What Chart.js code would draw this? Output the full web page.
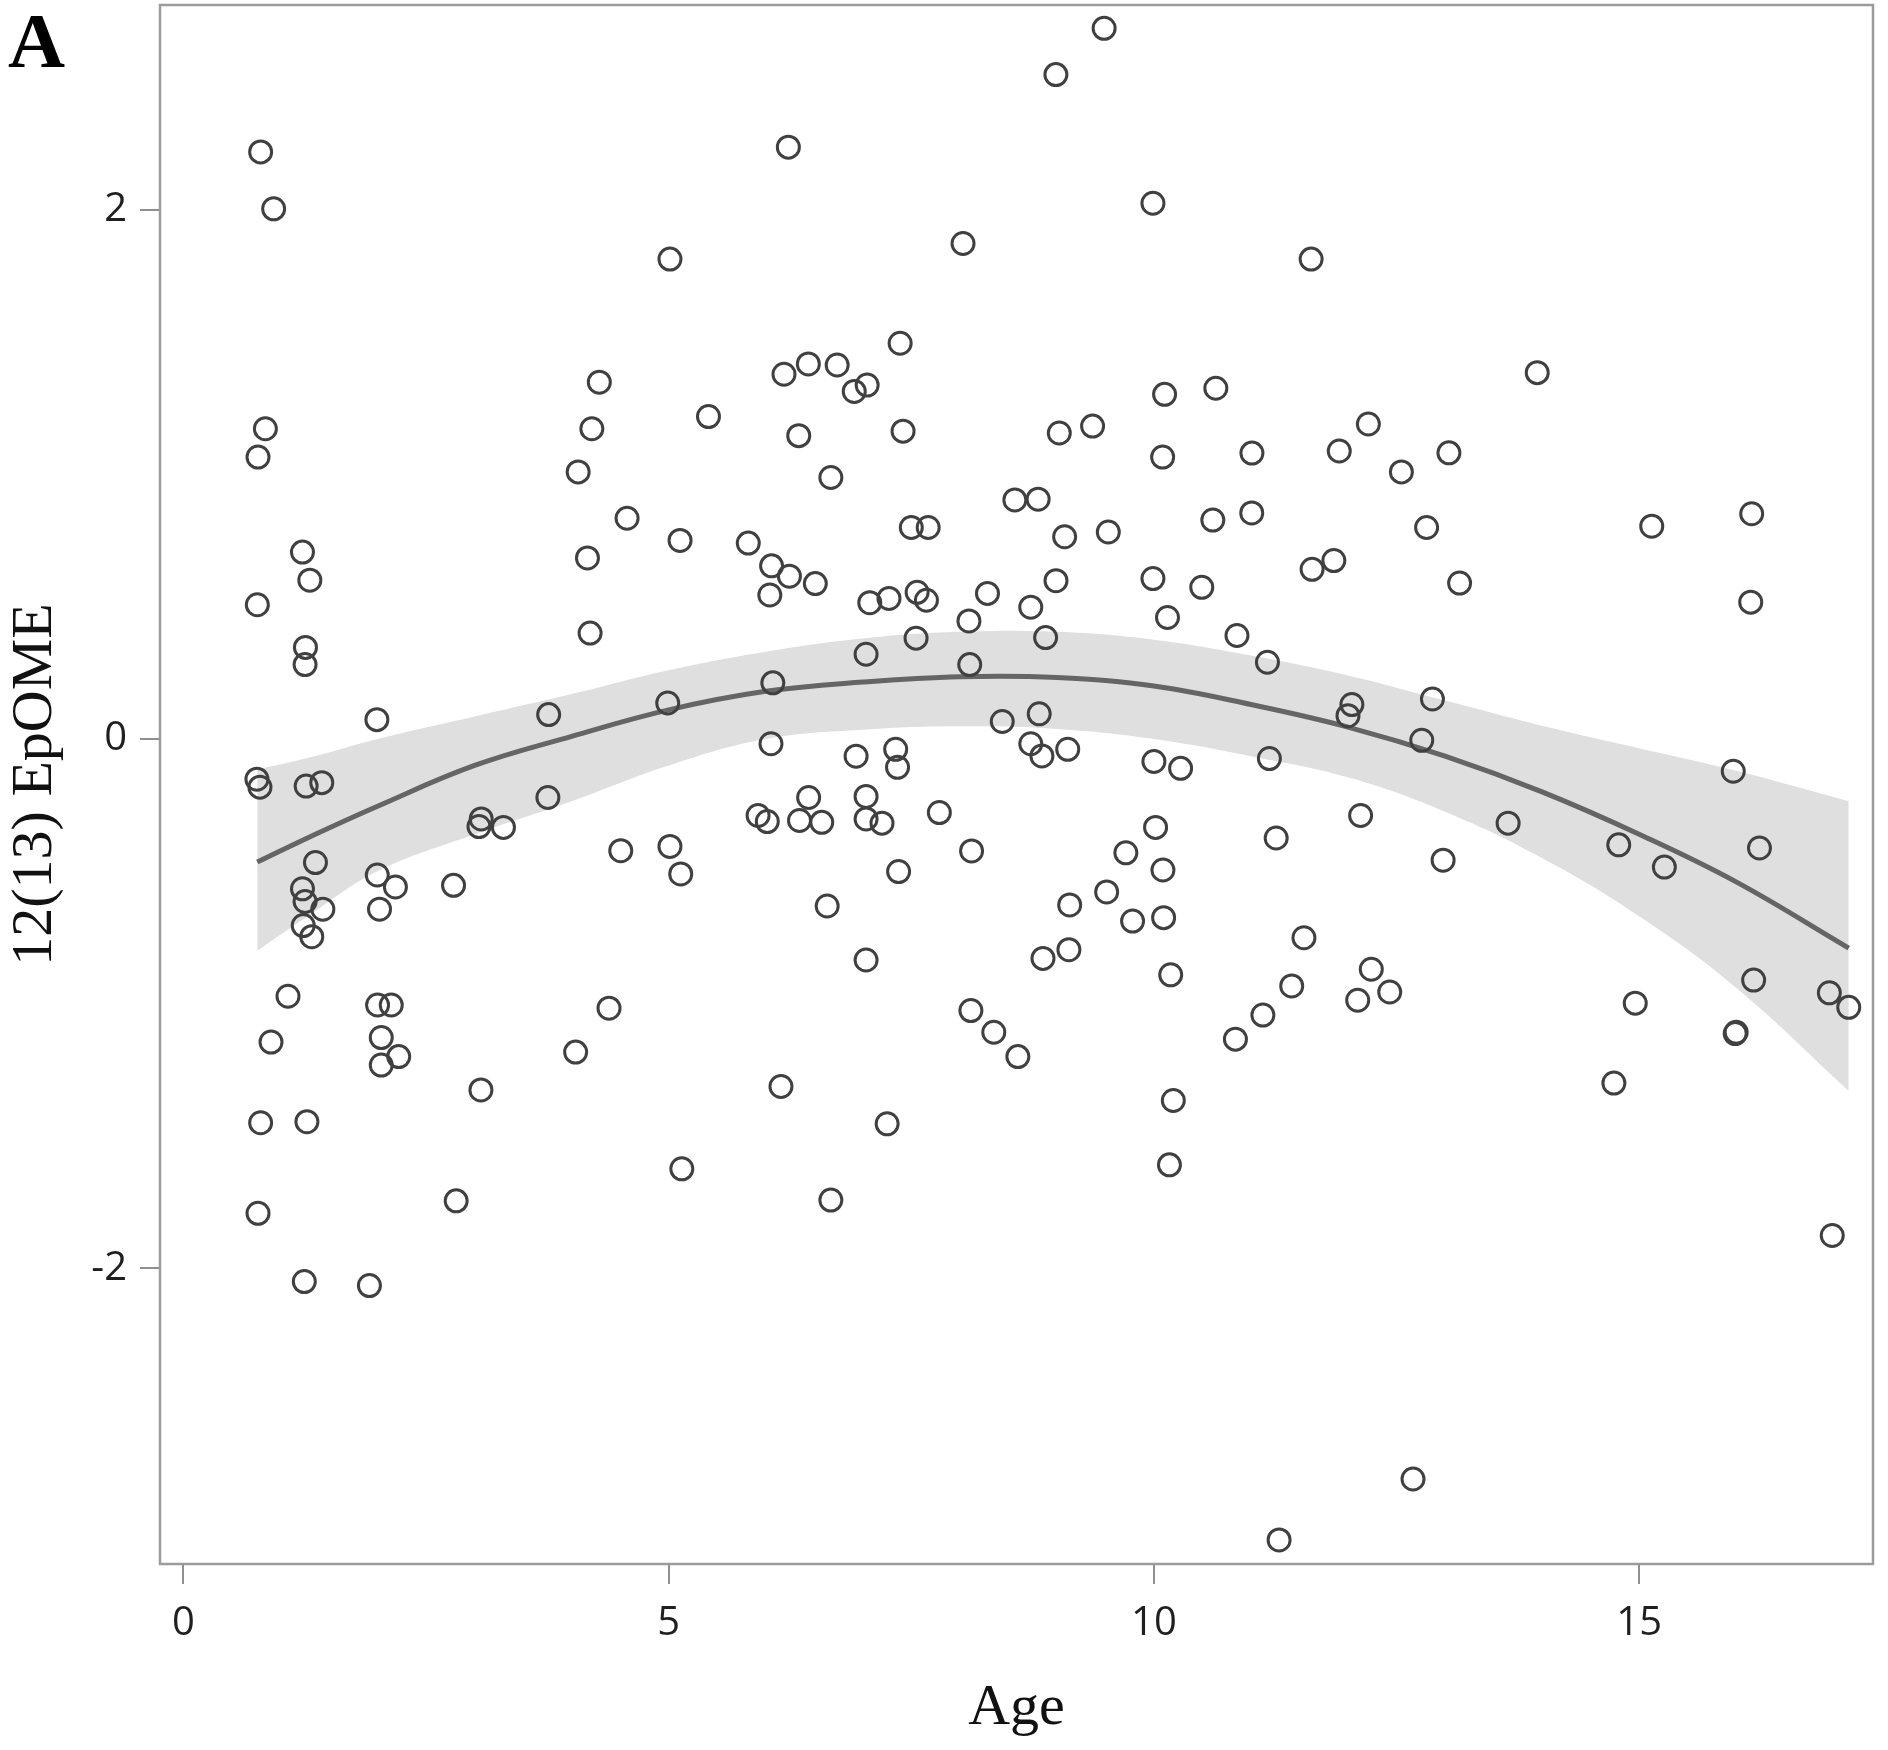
<!DOCTYPE html>
<html>
<head>
<meta charset="utf-8">
<script src="https://cdn.jsdelivr.net/npm/chart.js@4/dist/chart.umd.min.js"></script>
<style>
html,body{margin:0;padding:0;background:#fff;}
#wrap{position:relative;width:1888px;height:1750px;}
#panel{position:absolute;left:8px;top:1px;font-family:'Liberation Serif',serif;font-weight:bold;font-size:79px;line-height:79px;color:#000;}
</style>
</head>
<body>
<div id="wrap"><canvas id="c" width="1888" height="1750"></canvas><div id="panel">A</div></div>
<script>
const ages = [0.795,0.929,0.844,0.768,0.761,0.757,0.788,0.902,0.795,0.768,
1.226,1.302,1.257,1.253,1.264,1.425,1.36,1.226,1.253,1.436,1.234,1.322,1.077,1.272,1.245,
1.993,1.997,2.184,2.02,2.0,2.141,2.038,2.218,2.038,1.916,
2.783,2.81,3.068,3.045,3.297,3.065,
3.763,3.755,4.067,4.163,4.19,4.208,4.285,4.571,4.506,4.041,4.385,
5.013,4.99,5.117,5.013,5.124,5.135,5.41,
5.82,6.06,6.042,6.244,6.073,6.054,5.921,6.016,6.157,6.233,6.188,6.439,6.34,6.511,6.671,6.442,6.348,6.577,6.633,6.671,6.736,
6.912,7.045,7.385,7.415,7.5,7.674,7.072,7.27,7.56,7.656,7.549,7.034,6.931,7.339,7.358,7.034,7.034,7.198,7.369,7.034,7.251,7.789,
8.033,8.094,8.102,8.285,8.121,8.114,8.35,8.437,8.567,8.807,8.731,8.884,8.818,8.731,8.846,8.598,8.857,
8.99,9.487,9.025,9.368,9.08,8.991,9.112,9.132,9.124,9.53,9.513,9.711,9.78,
9.99,10.09,10.11,9.99,10.14,10.0,10.275,10.017,10.093,10.1,10.173,10.2,10.16,
10.638,10.607,10.493,11.01,11.008,10.856,11.17,11.19,11.26,10.84,11.123,11.29,
11.62,11.63,11.854,11.91,12.21,12.04,12.0,12.13,11.546,11.42,12.24,12.1,12.43,
12.55,12.81,13.04,13.15,12.87,12.76,12.98,12.67,
13.95,13.65,
15.13,14.79,15.26,14.96,14.74,
16.16,16.15,15.97,16.24,16.18,15.99,16.0,
16.96,17.16,16.99];

const values = [2.218,2.003,1.172,1.065,0.507,-0.152,-0.182,-1.145,-1.45,-1.792,
0.706,0.6,0.346,0.281,-0.178,-0.165,-0.467,-0.566,-0.614,-0.643,-0.705,-0.747,-0.972,-1.446,-2.05,
0.073,-0.514,-0.559,-0.643,-1.005,-1.005,-1.128,-1.2,-1.232,-2.065,
-0.553,-1.745,-0.302,-0.331,-0.334,-1.326,
0.092,-0.221,1.009,0.684,0.4,1.172,1.348,0.834,-0.422,-1.183,-1.017,
1.813,0.136,0.75,-0.406,-0.51,-1.624,1.218,
0.74,0.654,0.544,0.615,0.212,-0.018,-0.289,-0.312,-1.313,2.236,1.378,1.417,1.146,0.587,0.988,-0.221,-0.308,-0.315,-0.631,-1.742,1.413,
1.313,1.337,1.495,1.163,0.799,0.799,0.515,0.531,0.554,0.524,0.381,0.32,-0.065,-0.039,-0.107,-0.217,-0.302,-0.318,-0.501,-0.835,-1.454,-0.278,
1.872,0.446,0.281,0.55,-0.423,-1.026,-1.108,0.066,0.903,0.906,0.498,0.383,0.095,-0.018,-0.064,-1.2,-0.829,
2.51,2.685,1.156,1.182,0.764,0.598,-0.039,-0.627,-0.796,0.782,-0.578,-0.43,-0.688,
2.024,1.065,1.302,0.606,0.459,-0.085,-0.111,-0.334,-0.495,-0.675,-0.891,-1.366,-1.609,
1.325,0.827,0.573,1.08,0.854,0.391,0.29,-0.074,-0.374,-1.134,-1.043,-3.026,
1.813,0.641,0.674,1.088,1.19,0.13,0.088,-0.289,-0.751,-0.933,-0.87,-0.987,-0.956,
1.009,0.799,1.081,0.589,0.151,-0.005,-0.458,-2.796,
1.384,-0.318,
0.804,-0.4,-0.484,-0.998,-1.3,
0.851,0.517,-0.122,-0.412,-0.911,-1.113,-1.108,
-0.959,-1.014,-1.876];

const fitAges   = [0.76, 1.3, 2, 3, 4, 5, 6, 7, 8, 9, 10, 11, 12, 13, 14, 15, 16, 17.16];
const fitValues = [-0.465,-0.37,-0.254,-0.10,0.01,0.11,0.18,0.215,0.235,0.232,0.20,0.13,0.045,-0.065,-0.20,-0.36,-0.54,-0.79];
const bandUpper = [-0.115,-0.07,0.0,0.085,0.17,0.26,0.33,0.38,0.405,0.405,0.375,0.315,0.24,0.145,0.05,-0.035,-0.12,-0.235];
const bandLower = [-0.80,-0.665,-0.50,-0.36,-0.235,-0.1,0.0,0.035,0.048,0.038,0.0,-0.065,-0.145,-0.275,-0.45,-0.67,-0.94,-1.33];

const xTicks = [0, 5, 10, 15];
const yTicks = [-2, 0, 2];
const xTitle = 'Age';
const yTitle = '12(13) EpOME';

const pts = ages.map((a, i) => ({x: a, y: values[i]}));
const toXY = arr => fitAges.map((a, i) => ({x: a, y: arr[i]}));

const framePlugin = {
  id: 'frame',
  afterDatasetsDraw(chart) {
    const {ctx, chartArea: a} = chart;
    ctx.save();
    ctx.strokeStyle = '#9b9b9b';
    ctx.lineWidth = 2.5;
    ctx.strokeRect(a.left, a.top, a.right - a.left, a.bottom - a.top);
    ctx.restore();
  }
};

new Chart(document.getElementById('c'), {
  type: 'scatter',
  data: {
    datasets: [
      {
        label: 'data',
        data: pts,
        order: 0,
        pointStyle: 'circle',
        pointRadius: 11,
        pointHoverRadius: 11,
        pointBorderWidth: 3,
        pointBorderColor: '#404040',
        pointBackgroundColor: 'rgba(0,0,0,0)'
      },
      {
        type: 'line',
        label: 'fit',
        data: toXY(fitValues),
        order: 1,
        borderColor: '#656565',
        borderWidth: 5,
        pointRadius: 0,
        tension: 0.4,
        fill: false
      },
      {
        type: 'line',
        label: 'upper',
        data: toXY(bandUpper),
        order: 3,
        borderWidth: 0,
        borderColor: 'rgba(0,0,0,0)',
        pointRadius: 0,
        tension: 0.4,
        fill: false
      },
      {
        type: 'line',
        label: 'lower',
        data: toXY(bandLower),
        order: 2,
        borderWidth: 0,
        borderColor: 'rgba(0,0,0,0)',
        backgroundColor: '#dfdfdf',
        pointRadius: 0,
        tension: 0.4,
        fill: 2
      }
    ]
  },
  options: {
    responsive: false,
    animation: false,
    devicePixelRatio: 1,
    layout: {autoPadding: false, padding: {left: 0, top: 5, right: 15, bottom: 0}},
    plugins: {legend: {display: false}, tooltip: {enabled: false}},
    scales: {
      x: {
        type: 'linear',
        min: -0.242,
        max: 17.41,
        afterBuildTicks: s => { s.ticks = xTicks.map(v => ({value: v})); },
        afterFit: s => { s.height = 186; s.paddingLeft = 0; s.paddingRight = 0; },
        border: {display: false},
        grid: {drawOnChartArea: false, drawTicks: true, tickLength: 20, color: '#8f8f8f', lineWidth: 2},
        ticks: {font: {family: "'Open Sans'", size: 40}, color: '#1f1f1f', padding: 16, maxRotation: 0, callback: v => String(v)},
        title: {display: true, text: xTitle, font: {family: "'Liberation Serif'", size: 58}, color: '#111', padding: {top: 0, bottom: 6}}
      },
      y: {
        type: 'linear',
        min: -3.117,
        max: 2.773,
        afterBuildTicks: s => { s.ticks = yTicks.map(v => ({value: v})); },
        afterFit: s => { s.width = 160; s.paddingTop = 0; s.paddingBottom = 0; },
        border: {display: false},
        grid: {drawOnChartArea: false, drawTicks: true, tickLength: 20, color: '#8f8f8f', lineWidth: 2},
        ticks: {font: {family: "'Open Sans'", size: 40}, color: '#1f1f1f', padding: 13, callback: v => String(v)},
        title: {display: true, text: yTitle, font: {family: "'Liberation Serif'", size: 58}, color: '#111', padding: {top: 1, bottom: 0}}
      }
    }
  },
  plugins: [framePlugin]
});
</script>
</body>
</html>
